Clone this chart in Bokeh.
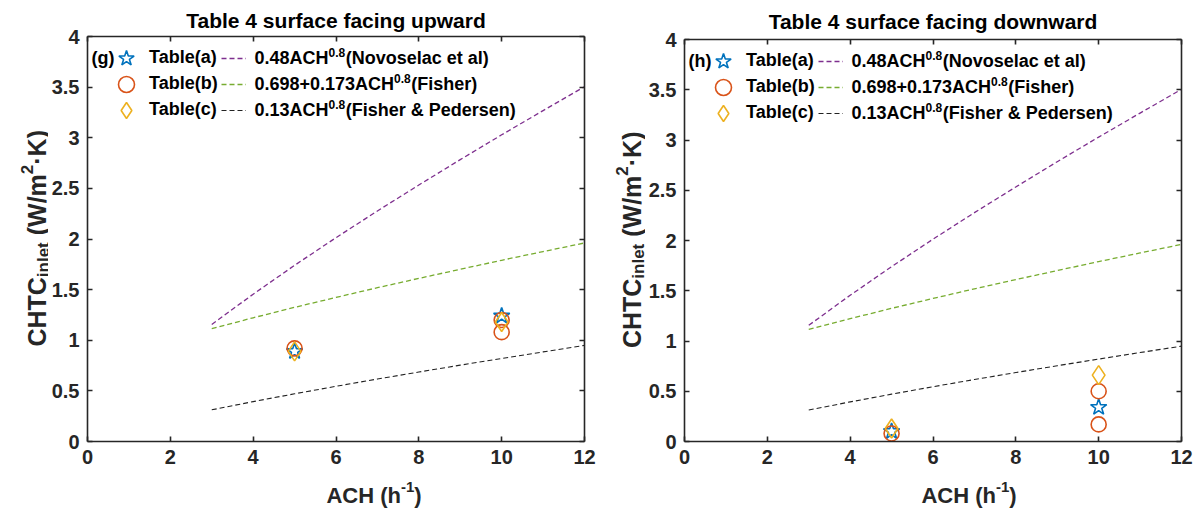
import math
from bokeh.plotting import figure
from bokeh.models import Range1d, LinearAxis, FixedTicker, Legend, LegendItem, Label
from bokeh.layouts import row, column
from bokeh.embed import file_html
from bokeh.resources import INLINE

FONT = "Liberation Sans"
AX = "#262626"

# ---------------- data ----------------
ach_line = [3, 4, 5, 6, 7, 8, 9, 10, 11, 12]
novoselac = [1.156, 1.455, 1.740, 2.013, 2.277, 2.533, 2.784, 3.029, 3.268, 3.504]
fisher = [1.115, 1.222, 1.325, 1.423, 1.519, 1.611, 1.701, 1.790, 1.876, 1.961]
fisher_pedersen = [0.313, 0.394, 0.471, 0.545, 0.617, 0.686, 0.754, 0.820, 0.885, 0.949]

up_a_x = [5, 10]
up_a_y = [0.89, 1.24]
up_b_x = [5, 10, 10]
up_b_y = [0.92, 1.20, 1.08]
up_c_x = [5, 10]
up_c_y = [0.89, 1.18]

dn_a_x = [5, 10]
dn_a_y = [0.10, 0.34]
dn_b_x = [5, 10, 10]
dn_b_y = [0.08, 0.50, 0.17]
dn_c_x = [5, 10]
dn_c_y = [0.13, 0.66]

x_ticks = [0, 2, 4, 6, 8, 10, 12]
y_ticks = [0, 0.5, 1, 1.5, 2, 2.5, 3, 3.5, 4]
y_tick_labels = ["0", "0.5", "1", "1.5", "2", "2.5", "3", "3.5", "4"]

table_labels = ["Table(a)", "Table(b)", "Table(c)"]
formula_main = ["0.48ACH", "0.698+0.173ACH", "0.13ACH"]
formula_sup = ["0.8", "0.8", "0.8"]
formula_tail = ["(Novoselac et al)", "(Fisher)", "(Fisher & Pedersen)"]

WID = {' ': 278, '(': 333, ')': 333, '+': 584, '-': 333, '.': 278, '/': 278, '&': 722,
       '\u00b7': 278, 'A': 722, 'C': 722, 'F': 611, 'H': 722, 'K': 722, 'N': 722,
       'P': 667, 'T': 611, 'W': 944, 'a': 556, 'b': 611, 'c': 556, 'd': 611, 'e': 556,
       'f': 333, 'g': 611, 'h': 611, 'i': 278, 'l': 278, 'm': 889, 'n': 611, 'o': 611,
       'p': 611, 'r': 389, 's': 556, 't': 333, 'u': 611, 'v': 556, 'w': 778}

TOTAL_H = 510
FRAME_W = 497


def tw(s, size):
    return sum(WID.get(ch, 556) for ch in s) * size / 1000.0


def lab(p, text, x, y, size, **kw):
    l = Label(x=x, y=y, x_units="screen", y_units="screen", text=text,
              text_font=FONT, text_font_style="bold", text_font_size=f"{size}px",
              text_color=kw.pop("color", "black"), **kw)
    p.add_layout(l)
    return l


def text_fig(w, h):
    f = figure(width=w, height=h, x_range=Range1d(0, 1), y_range=Range1d(0, 1),
               output_backend="svg", toolbar_location=None, title=None,
               x_axis_location=None, y_axis_location=None,
               min_border_left=0, min_border_right=0, min_border_top=0, min_border_bottom=0)
    f.outline_line_color = None
    f.grid.visible = False
    return f


def make_panel(title, tag, ax_, ay_, bx_, by_, cx_, cy_, top, fh, left_border,
               right_border, title_standoff, ylab_w, ylab_base):
    fw = FRAME_W
    bottom = 34
    p = figure(frame_width=fw, frame_height=fh, x_range=Range1d(0, 12), y_range=Range1d(0, 4),
               output_backend="svg", toolbar_location=None,
               min_border_left=left_border, min_border_right=right_border,
               min_border_top=top, min_border_bottom=bottom)
    p.grid.visible = False
    p.outline_line_color = None

    p.title.text = title
    p.title.text_font = FONT
    p.title.text_font_style = "bold"
    p.title.text_font_size = "21px"
    p.title.align = "center"
    p.title.standoff = title_standoff
    p.title.text_color = "black"

    bottom_ax = p.below[0]
    left_ax = p.left[0]
    bottom_ax.ticker = FixedTicker(ticks=x_ticks)
    left_ax.ticker = FixedTicker(ticks=y_ticks)
    left_ax.major_label_overrides = {t: s for t, s in zip(y_ticks, y_tick_labels)}
    top_ax = LinearAxis(ticker=FixedTicker(ticks=x_ticks))
    right_ax = LinearAxis(ticker=FixedTicker(ticks=y_ticks))
    p.add_layout(top_ax, "above")
    p.add_layout(right_ax, "right")
    for ax in [bottom_ax, left_ax, top_ax, right_ax]:
        ax.major_tick_in = 5
        ax.major_tick_out = 0
        ax.minor_tick_in = 0
        ax.minor_tick_out = 0
        ax.axis_line_color = AX
        ax.axis_line_width = 1.6
        ax.major_tick_line_color = AX
        ax.major_tick_line_width = 1.6
        ax.major_label_text_font = FONT
        ax.major_label_text_font_style = "bold"
        ax.major_label_text_font_size = "20px"
        ax.major_label_text_color = AX
        ax.axis_label = None
        ax.axis_label_standoff = 0
    left_ax.major_label_standoff = 8
    bottom_ax.major_label_standoff = 8
    for ax in [top_ax, right_ax]:
        ax.major_label_overrides = {t: "" for t in (x_ticks if ax is top_ax else y_ticks)}
        ax.major_label_standoff = 0
        ax.major_label_text_font_size = "1px"

    l1 = p.line(ach_line, novoselac, line_color="#7E2F8E", line_dash="5 3", line_width=1.3)
    l2 = p.line(ach_line, fisher, line_color="#77AC30", line_dash="5 3", line_width=1.3)
    l3 = p.line(ach_line, fisher_pedersen, line_color="#222222", line_dash="5 3", line_width=1.1)

    ra = p.scatter(ax_, ay_, marker="star", size=17, fill_color=None,
                   line_color="#0072BD", line_width=1.6)
    rb = p.scatter(bx_, by_, marker="circle", size=15, fill_color=None,
                   line_color="#D95319", line_width=1.6)
    rc = p.scatter(cx_, cy_, marker="diamond", size=19, fill_color=None,
                   line_color="#EDB120", line_width=1.6)

    marker_rs = [ra, rb, rc]
    line_rs = [l1, l2, l3]
    for i in range(3):
        yc = fh - (21.5 + 26 * i)
        legA = Legend(items=[LegendItem(label=table_labels[i], renderers=[marker_rs[i]])],
                      location=(19, yc - 20), glyph_width=40, glyph_height=40,
                      label_height=40, spacing=0, padding=0, margin=0, label_standoff=3,
                      label_text_font=FONT, label_text_font_style="bold",
                      label_text_font_size="18px", label_text_color="black",
                      border_line_color=None, background_fill_alpha=0)
        legB = Legend(items=[LegendItem(label=" ", renderers=[line_rs[i]])],
                      location=(134, yc - 20), glyph_width=25, glyph_height=40,
                      label_height=40, spacing=0, padding=0, margin=0, label_standoff=0,
                      label_width=1, label_text_font_size="4px",
                      border_line_color=None, background_fill_alpha=0)
        p.add_layout(legA)
        p.add_layout(legB)
        x0 = 167
        lab(p, formula_main[i], x0, yc, 18, text_baseline="middle")
        x1 = x0 + tw(formula_main[i], 18)
        lab(p, formula_sup[i], x1, yc + 6, 12, text_baseline="middle")
        x2 = x1 + tw(formula_sup[i], 12) + 0.5
        lab(p, formula_tail[i], x2, yc, 18, text_baseline="middle")
    lab(p, tag, 4, fh - 21.5, 18, text_baseline="middle")

    p_h = top + fh + bottom
    p_w = left_border + fw + right_border

    # x axis label in a strip under the figure
    xl = text_fig(p_w, TOTAL_H - p_h)
    xs_main, xs_sup, xs_end = "ACH (h", "-1", ")"
    tot = tw(xs_main, 22) + tw(xs_sup, 15) + tw(xs_end, 22)
    xa = left_border + fw / 2 - tot / 2
    xb = xa + tw(xs_main, 22)
    xc = xb + tw(xs_sup, 15)
    base = 15
    lab(xl, xs_main, xa, base, 22, text_baseline="alphabetic", color=AX)
    lab(xl, xs_sup, xb, base + 9, 15, text_baseline="alphabetic", color=AX)
    lab(xl, xs_end, xc, base, 22, text_baseline="alphabetic", color=AX)

    # y axis label in a strip left of the figure
    yl = text_fig(ylab_w, TOTAL_H)
    F, S = 25, 17
    pieces = [("CHTC", F, ylab_base, 0), ("inlet", S, ylab_base + 7, 0),
              ("(W/m", F, ylab_base, tw(" ", F)),
              ("2", S, ylab_base - 10, 0), ("\u00b7K)", F, ylab_base, 0)]
    total = sum(tw(t, s) + pre for t, s, _, pre in pieces)
    center = TOTAL_H - (top + fh / 2)
    y = center - total / 2
    for t, s, bx, pre in pieces:
        y += pre
        lab(yl, t, bx, y, s, angle=math.pi / 2, text_baseline="alphabetic", color=AX)
        y += tw(t, s)
    return row(yl, column(p, xl))


b1 = make_panel("Table 4 surface facing upward", "(g)", up_a_x, up_a_y, up_b_x, up_b_y,
                up_c_x, up_c_y, 36, 405, 38, 17, 9, 48, 36)
b2 = make_panel("Table 4 surface facing downward", "(h)", dn_a_x, dn_a_y, dn_b_x, dn_b_y,
                dn_c_x, dn_c_y, 39, 402, 36, 14, 14, 44, 30)

layout = row(b1, b2)
open("out.html", "w").write(file_html(layout, INLINE))
